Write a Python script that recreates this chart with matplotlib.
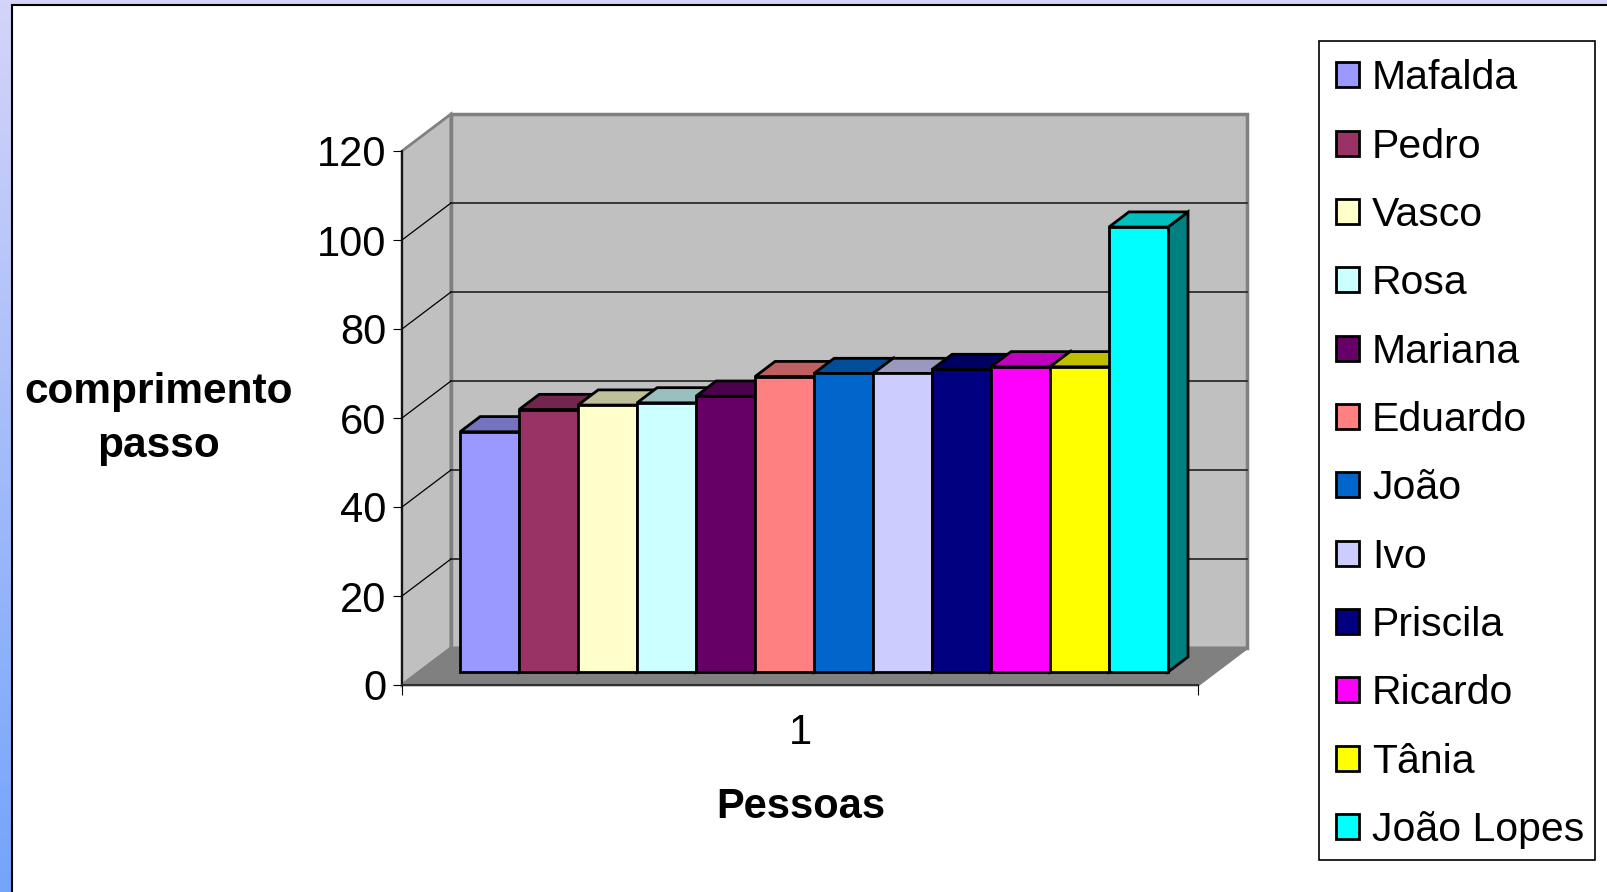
import numpy as np
import matplotlib
matplotlib.use("Agg")
from matplotlib import pyplot as plt
from matplotlib.patches import Polygon, Rectangle
from matplotlib.colors import to_rgb

plt.rcParams['font.family'] = ['Liberation Sans', 'DejaVu Sans']

# comprimento do passo por pessoa
nomes = ['Mafalda', 'Pedro', 'Vasco', 'Rosa', 'Mariana', 'Eduardo',
         'João', 'Ivo', 'Priscila', 'Ricardo', 'Tânia', 'João Lopes']
passos = [54, 59, 60, 60.5, 62, 66.4, 67.1, 67.1, 68, 68.6, 68.6, 100]
cores = ['#9999FF', '#993366', '#FFFFCC', '#CCFFFF', '#660066', '#FF8080',
         '#0066CC', '#CCCCFF', '#000080', '#FF00FF', '#FFFF00', '#00FFFF']
yticks = [0, 20, 40, 60, 80, 100, 120]

W, H = 1607, 892
fig = plt.figure(figsize=(W / 100, H / 100), dpi=100)

# background: gradient frame + white chart area
bg = fig.add_axes([0, 0, 1, 1])
bg.set_xlim(0, W)
bg.set_ylim(H, 0)
bg.axis('off')
top_c = np.array(to_rgb('#d4d4f8'))
bot_c = np.array(to_rgb('#74a4fc'))
t = np.linspace(0, 1, 256)[:, None]
grad = (top_c[None, :] * (1 - t) + bot_c[None, :] * t)[:, None, :]
bg.imshow(grad, extent=[0, W, H, 0], aspect='auto')
bg.add_patch(Rectangle((12, 5), W, H, facecolor='white', edgecolor='black', lw=1.5))
# legend box
bg.add_patch(Rectangle((1319, 41), 276, 819, facecolor='white', edgecolor='black', lw=1.2))

# front plane of the 3d box
ax = fig.add_axes([402 / W, 1 - 685 / H, 796 / W, 534 / H])
ax.patch.set_visible(False)
x0, x1 = -0.695, 12.8
ax.set_xlim(x0, x1)
ax.set_ylim(0, 120)

ddx, ddy = 0.83, 8.31       # full depth of the box
f_front, f_back = 0.35, 0.76  # depth of the columns

wall = '#c0c0c0'
edge = '#808080'
ax.add_patch(Polygon([(x0, 0), (x0 + ddx, ddy), (x0 + ddx, 120 + ddy), (x0, 120)],
                     closed=True, fc=wall, ec=edge, lw=2, clip_on=False, zorder=0.5))
ax.add_patch(Polygon([(x0 + ddx, ddy), (x1 + ddx, ddy), (x1 + ddx, 120 + ddy), (x0 + ddx, 120 + ddy)],
                     closed=True, fc=wall, ec=edge, lw=2.5, clip_on=False, zorder=0.5))
ax.add_patch(Polygon([(x0, 0), (x1, 0), (x1 + ddx, ddy), (x0 + ddx, ddy)],
                     closed=True, fc='#808080', ec=edge, lw=2, clip_on=False, zorder=0.6))
for y in yticks[1:-1]:
    ax.plot([x0 + ddx, x1 + ddx], [y + ddy, y + ddy], color='#202020', lw=1.2, clip_on=False, zorder=0.7)
    ax.plot([x0, x0 + ddx], [y, y + ddy], color='black', lw=0.9, clip_on=False, zorder=0.7)

# columns
fx, fy = f_front * ddx, f_front * ddy
bx, by = (f_back - f_front) * ddx, (f_back - f_front) * ddy
handles = []
for i, (nome, v, c) in enumerate(zip(nomes, passos, cores)):
    z = 2 + i * 0.1
    rgb = np.array(to_rgb(c))
    b = ax.bar(i + 0.5 + fx, v, width=1, bottom=fy, color=c, edgecolor='black',
               lw=2, label=nome, zorder=z + 0.02, clip_on=False)
    l, r = i + fx, i + 1 + fx
    top = v + fy
    ax.add_patch(Polygon([(r, fy), (r + bx, fy + by), (r + bx, top + by), (r, top)],
                         closed=True, fc=rgb * 0.5, ec='black', lw=2, zorder=z, clip_on=False))
    ax.add_patch(Polygon([(l, top), (r, top), (r + bx, top + by), (l + bx, top + by)],
                         closed=True, fc=rgb * 0.75, ec='black', lw=2, zorder=z + 0.01, clip_on=False))
    handles.append(b.patches[0])

for s in ['top', 'right']:
    ax.spines[s].set_visible(False)
ax.spines['left'].set_linewidth(1.2)
ax.spines['bottom'].set_linewidth(1.5)
ax.spines['bottom'].set_color('#303030')
ax.spines['left'].set_zorder(0.8)
ax.spines['bottom'].set_zorder(0.8)

ax.set_yticks(yticks)
ax.set_yticklabels([str(v) for v in yticks])
ax.tick_params(axis='y', labelsize=30, length=6.5, width=0.8, pad=4.5)
ax.set_xticks([x0, x1])
ax.set_xticklabels(['', ''])
ax.set_xticks([(x0 + x1) / 2], ['1'], minor=True)
ax.tick_params(axis='x', which='major', length=7.2, width=0.8)
ax.tick_params(axis='x', which='minor', length=0, labelsize=30, pad=20)

fig.text(159 / W, 1 - 419 / H, 'comprimento\npasso', ha='center', va='center',
         fontsize=30.5, fontweight='bold', linespacing=1.44)
fig.text(801 / W, 1 - 807 / H, 'Pessoas', ha='center', va='center',
         fontsize=30, fontweight='bold')

leg = fig.legend(handles, nomes, loc='upper left', bbox_to_anchor=(1317.5 / W, 1 - 41 / H),
                 bbox_transform=fig.transFigure, borderaxespad=0, fontsize=29.5,
                 handlelength=0.56, handleheight=0.56, handletextpad=0.32,
                 labelspacing=0.74, borderpad=0.45, frameon=False)

fig.savefig('out.png', dpi=100)
